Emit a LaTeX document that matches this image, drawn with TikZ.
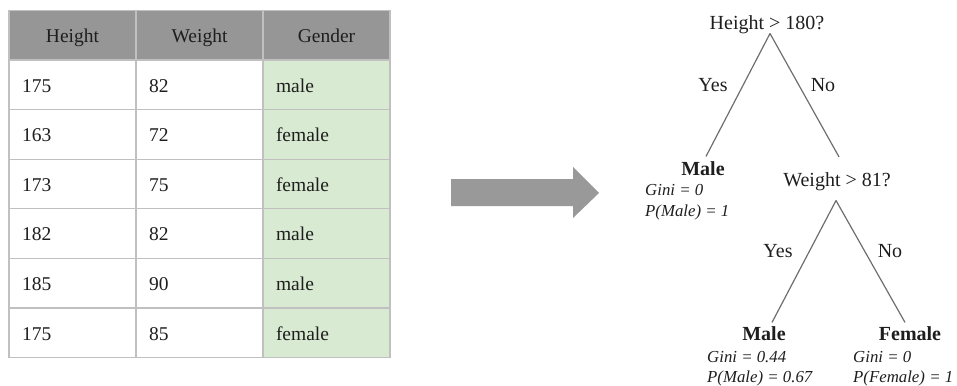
\documentclass[tikz,border=0pt]{standalone}
\usepackage{fontspec}
\setmainfont{Liberation Serif}
\definecolor{headgray}{HTML}{969696}
\definecolor{gridgray}{HTML}{C0C0C0}
\definecolor{gendergreen}{HTML}{D9EAD3}
\definecolor{inkdark}{HTML}{1E1E1E}
\definecolor{branchgray}{HTML}{6E6E6E}
\definecolor{arrowgray}{HTML}{999999}
\begin{document}
\begin{tikzpicture}[x=1pt,y=-1pt,
  every node/.style={text=inkdark},
  cell/.style={draw=gridgray, line width=1.2pt, minimum width=127pt,
    minimum height=49.6pt, text width=101pt, inner xsep=13pt, inner ysep=0pt,
    align=left, text height=14.5pt, text depth=0pt,
    font=\fontsize{19.5}{22}\selectfont},
  headcell/.style={cell, fill=headgray, align=center},
  cond/.style={anchor=base, inner sep=0pt, font=\fontsize{20}{24}\selectfont},
  answer/.style={anchor=base, inner sep=0pt, font=\fontsize{20}{24}\selectfont},
  leaf/.style={anchor=base, inner sep=0pt, font=\bfseries\fontsize{20}{24}\selectfont},
  stat/.style={anchor=base west, inner sep=0pt, font=\itshape\fontsize{16.8}{19}\selectfont},
  branch/.style={draw=branchgray, line width=1.2pt}
]
\useasboundingbox (0,0) rectangle (957,385);

% data table
\node[headcell] (hh) at (72.5,35) {Height};
\node[headcell] (hw) at (199.5,35) {Weight};
\node[headcell] (hg) at (326.5,35) {Gender};
\foreach \h/\w/\g [count=\r] in {175/82/male, 163/72/female, 173/75/female,
    182/82/male, 185/90/male, 175/85/female} {
  \pgfmathsetmacro\yc{60+49.6*(\r-0.5)}
  \node[cell] (h\r) at (72.5,\yc) {\h};
  \node[cell] (w\r) at (199.5,\yc) {\w};
  \node[cell, fill=gendergreen] (g\r) at (326.5,\yc) {\g};
}

% block arrow
\fill[arrowgray] (451,179) -- (573,179) -- (573,167) -- (599,193)
  -- (573,218) -- (573,206) -- (451,206) -- cycle;

% decision tree
\node[cond] (q1) at (767,30) {Height > 180?};
\node[leaf] (m1) at (703,175.5) {Male};
\node[stat] (m1g) at (645,195) {Gini = 0};
\node[stat] (m1p) at (645,216) {P(Male) = 1};
\node[cond] (q2) at (837,186) {Weight > 81?};
\node[leaf] (m2) at (764,340) {Male};
\node[stat] (m2g) at (707,362) {Gini = 0.44};
\node[stat] (m2p) at (707,382) {P(Male) = 0.67};
\node[leaf] (f2) at (910,340) {Female};
\node[stat] (f2g) at (853,362) {Gini = 0};
\node[stat] (f2p) at (853,382) {P(Female) = 1};

\node[answer] (y1) at (713,92) {Yes};
\node[answer] (n1) at (823,92) {No};
\node[answer] (y2) at (778,257) {Yes};
\node[answer] (n2) at (890,257) {No};

\draw[branch] ([xshift=3pt,yshift=1pt]q1.south) -- ([xshift=3pt,yshift=5pt]m1.north);
\draw[branch] ([xshift=3pt,yshift=1pt]q1.south) -- ([xshift=2pt,yshift=15pt]q2.north);
\draw[branch] ([xshift=-1pt,yshift=-10pt]q2.south) -- ([xshift=8pt,yshift=3.5pt]m2.north);
\draw[branch] ([xshift=-1pt,yshift=-10pt]q2.south) -- ([xshift=-5pt,yshift=3.5pt]f2.north);
\end{tikzpicture}
\end{document}
